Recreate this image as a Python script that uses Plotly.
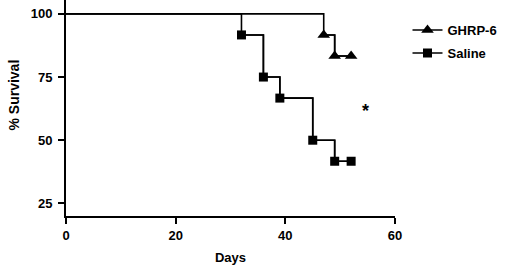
import plotly.graph_objects as go

# Kaplan-Meier data (days, % survival)
ghrp_days = [0, 47, 49, 52]
ghrp_surv = [100, 91.67, 83.33, 83.33]
saline_days = [0, 32, 36, 39, 45, 49, 52]
saline_surv = [100, 91.67, 75, 66.67, 50, 41.67, 41.67]

x_ticks = [0, 20, 40, 60]
y_ticks = [25, 50, 75, 100]

FONT = "Liberation Sans"
BLACK = "#000000"

fig = go.Figure()

# full step curves (no legend)
for days, surv in [(ghrp_days, ghrp_surv), (saline_days, saline_surv)]:
    fig.add_trace(go.Scatter(x=days, y=surv, mode="lines", line_shape="hv",
                             line=dict(color=BLACK, width=1.6),
                             showlegend=False, hoverinfo="skip", cliponaxis=False))

# event markers + legend entries
fig.add_trace(go.Scatter(x=ghrp_days[1:], y=ghrp_surv[1:], mode="lines+markers",
                         line_shape="hv", name="<b>GHRP-6</b>", legendgroup="g1",
                         line=dict(color=BLACK, width=1.6),
                         marker=dict(symbol="triangle-up", size=11, color=BLACK),
                         cliponaxis=False))
fig.add_trace(go.Scatter(x=saline_days[1:], y=saline_surv[1:], mode="lines+markers",
                         line_shape="hv", name="<b>Saline</b>", legendgroup="g2",
                         line=dict(color=BLACK, width=1.6),
                         marker=dict(symbol="square", size=9, color=BLACK),
                         cliponaxis=False))

fig.add_annotation(x=54.7, y=61.6, xref="x", yref="y", text="<b>*</b>",
                   showarrow=False, font=dict(family=FONT, size=18, color=BLACK))

fig.add_annotation(x=-0.187, y=0.56, xref="paper", yref="paper", text="<b>% Survival</b>",
                   textangle=-90, showarrow=False,
                   font=dict(family=FONT, size=14, color=BLACK))

fig.update_layout(
    width=505, height=265,
    margin=dict(l=66, r=110, t=0, b=49),
    paper_bgcolor="white", plot_bgcolor="white",
    font=dict(family=FONT, size=13, color=BLACK),
    legend=dict(x=1.038, y=0.93, xanchor="left", yanchor="top",
                font=dict(family=FONT, size=13, color=BLACK),
                bgcolor="rgba(0,0,0,0)", tracegroupgap=3),
    xaxis=dict(range=[0, 60], tickvals=x_ticks, ticktext=[f"<b>{v}</b>" for v in x_ticks],
               showgrid=False, zeroline=False, showline=True, linewidth=2, linecolor=BLACK,
               ticks="outside", ticklen=6, tickwidth=2, tickcolor=BLACK,
               title=dict(text="<b>Days</b>", font=dict(size=13), standoff=12)),
    yaxis=dict(range=[20, 105.5], tickvals=y_ticks, ticktext=[f"<b>{v}</b>" for v in y_ticks],
               showgrid=False, zeroline=False, showline=True, linewidth=2, linecolor=BLACK,
               ticks="outside", ticklen=6, tickwidth=2, tickcolor=BLACK,
               ticklabelstandoff=3),
)

fig.write_html("out.html", config={"displayModeBar": False},
               post_script="document.body.style.margin='0';")
